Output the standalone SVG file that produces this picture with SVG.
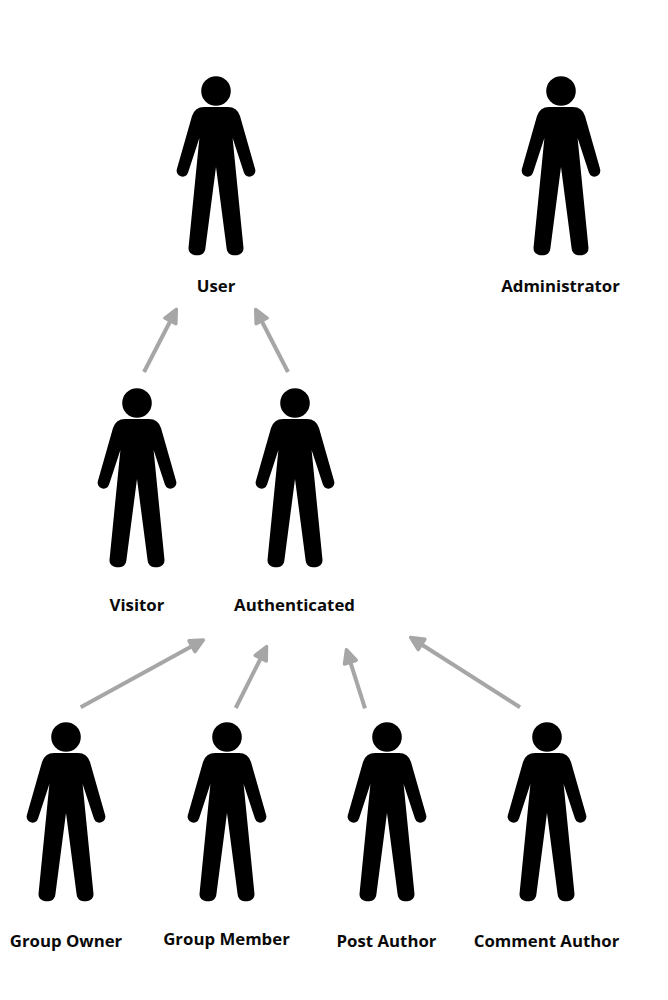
<svg xmlns="http://www.w3.org/2000/svg" width="668" height="1000" viewBox="0 0 668 1000">
<style>
.label{font-family:"Open Sans","Liberation Sans",sans-serif;font-weight:700;font-size:16.8px;fill:#0a0a0a;text-anchor:middle}
.edge{fill:none;stroke:#a6a6a6;stroke-width:4;marker-end:url(#arrow)}
</style>
<defs>
<marker id="arrow" markerUnits="userSpaceOnUse" viewBox="-10 -10 22 20" refX="0" refY="0" markerWidth="22" markerHeight="20" orient="auto" overflow="visible">
<path d="M-5.5,-6.2 L7.5,0 L-5.5,6.2 Z" fill="#a6a6a6" stroke="#a6a6a6" stroke-width="3.4" stroke-linejoin="round"/>
</marker>
<g id="person">
<circle cx="0" cy="0" r="14.8" fill="#000"/>
<path fill="#000" d="M-12,16 H12 Q21,16 24,25 L39.1,78 A5.8,5.8 0 0 1 27.9,81.5 L16.6,47 L27.5,157 A6.8,6.8 0 0 1 20.7,164.2 H17.5 A6.8,6.8 0 0 1 10.7,158 L0,76 L-10.7,158 A6.8,6.8 0 0 1 -17.5,164.2 H-20.7 A6.8,6.8 0 0 1 -27.5,157 L-16.6,47 L-27.9,81.5 A5.8,5.8 0 0 1 -39.1,78 L-24,25 Q-21,16 -12,16 Z"/>
</g>
</defs>
<rect width="668" height="1000" fill="#fff"/>
<g id="connectors">
<line class="edge" x1="144" y1="372" x2="172.9" y2="316"/>
<line class="edge" x1="288" y1="372" x2="259.1" y2="316"/>
<line class="edge" x1="80.7" y1="707.3" x2="196.8" y2="643.6"/>
<line class="edge" x1="235.7" y1="708" x2="263.2" y2="653.3"/>
<line class="edge" x1="365" y1="708.3" x2="348.7" y2="656.9"/>
<line class="edge" x1="520" y1="707.3" x2="416.9" y2="641.5"/>
</g>
<g id="user"><use href="#person" x="216" y="91"/><text class="label" x="216" y="291.5">User</text></g>
<g id="administrator"><use href="#person" x="561" y="91"/><text class="label" x="560.5" y="291.5">Administrator</text></g>
<g id="visitor"><use href="#person" x="137" y="403"/><text class="label" x="137" y="611">Visitor</text></g>
<g id="authenticated"><use href="#person" x="295" y="403"/><text class="label" x="294.5" y="611">Authenticated</text></g>
<g id="group-owner"><use href="#person" x="66" y="737"/><text class="label" x="66" y="947">Group Owner</text></g>
<g id="group-member"><use href="#person" x="227" y="737"/><text class="label" x="226.5" y="945">Group Member</text></g>
<g id="post-author"><use href="#person" x="387" y="737"/><text class="label" x="386.5" y="947">Post Author</text></g>
<g id="comment-author"><use href="#person" x="547" y="737"/><text class="label" x="546.5" y="947">Comment Author</text></g>
</svg>
